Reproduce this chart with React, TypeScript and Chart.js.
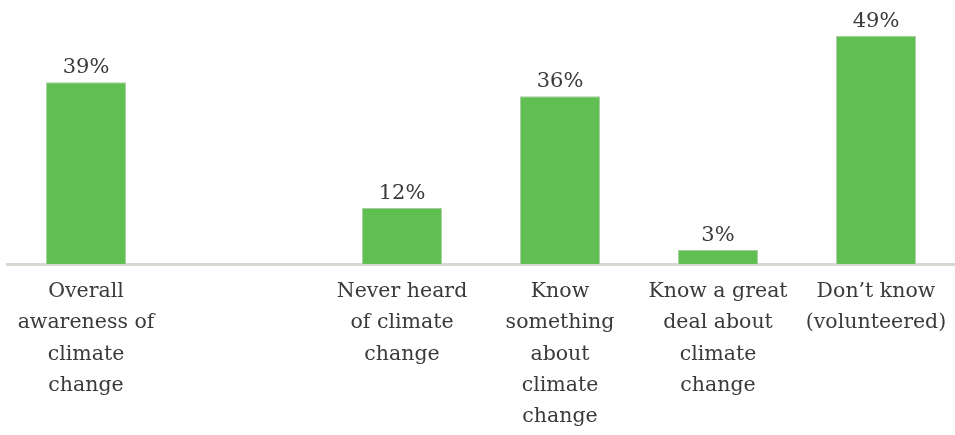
import React, { useEffect, useRef } from "react";
import { Chart, registerables } from "chart.js";

Chart.register(...registerables);

const categories: string[][] = [
  ["Overall", "awareness of", "climate", "change"],
  [],
  ["Never heard", "of climate", "change"],
  ["Know", "something", "about", "climate", "change"],
  ["Know a great", "deal about", "climate", "change"],
  ["Don\u2019t know", "(volunteered)"],
];
const values: (number | null)[] = [39, null, 12, 36, 3, 49];
const valueLabels: string[] = ["39%", "", "12%", "36%", "3%", "49%"];

const FONT = "'DejaVu Serif', Georgia, serif";
const TEXT = "#3a3a3a";

const dataLabelPlugin = {
  id: "dataLabels",
  afterDatasetsDraw(chart: any) {
    const ctx = chart.ctx;
    const meta = chart.getDatasetMeta(0);
    ctx.save();
    ctx.font = `21px ${FONT}`;
    ctx.fillStyle = TEXT;
    ctx.textAlign = "center";
    ctx.textBaseline = "alphabetic";
    meta.data.forEach((el: any, i: number) => {
      if (values[i] == null) return;
      ctx.fillText(valueLabels[i], el.x, el.y - 9);
    });
    ctx.restore();
  },
};

export default function App() {
  const ref = useRef<HTMLCanvasElement>(null);
  useEffect(() => {
    document.body.style.margin = "0";
    const chart = new Chart(ref.current!, {
      type: "bar",
      data: {
        labels: categories as any,
        datasets: [
          {
            data: values,
            backgroundColor: "#5fbf50",
            borderColor: "#a9cba2",
            borderWidth: 1,
            borderSkipped: "bottom",
            categoryPercentage: 1,
            barPercentage: 0.506,
          },
        ],
      },
      options: {
        responsive: false,
        animation: false,
        devicePixelRatio: 1,
        layout: { padding: { left: 7, right: 0, top: 31, bottom: 0 } },
        plugins: { legend: { display: false }, tooltip: { enabled: false } },
        scales: {
          x: {
            grid: { display: false, drawTicks: false },
            border: { display: true, color: "#d8d8d2", width: 3 },
            ticks: {
              color: TEXT,
              font: { family: FONT, size: 20.5, lineHeight: 31.3 / 20.5 },
              padding: 12,
              maxRotation: 0,
              autoSkip: false,
            },
            afterFit(scale: any) {
              scale.height = 171;
              scale.paddingLeft = 0;
              scale.paddingRight = 0;
            },
          },
          y: {
            display: false,
            min: 0,
            max: 50,
          },
        },
      },
      plugins: [dataLabelPlugin],
    });
    return () => chart.destroy();
  }, []);
  return (
    <div style={{ width: 955, height: 435 }}>
      <canvas ref={ref} width={955} height={435} />
    </div>
  );
}
